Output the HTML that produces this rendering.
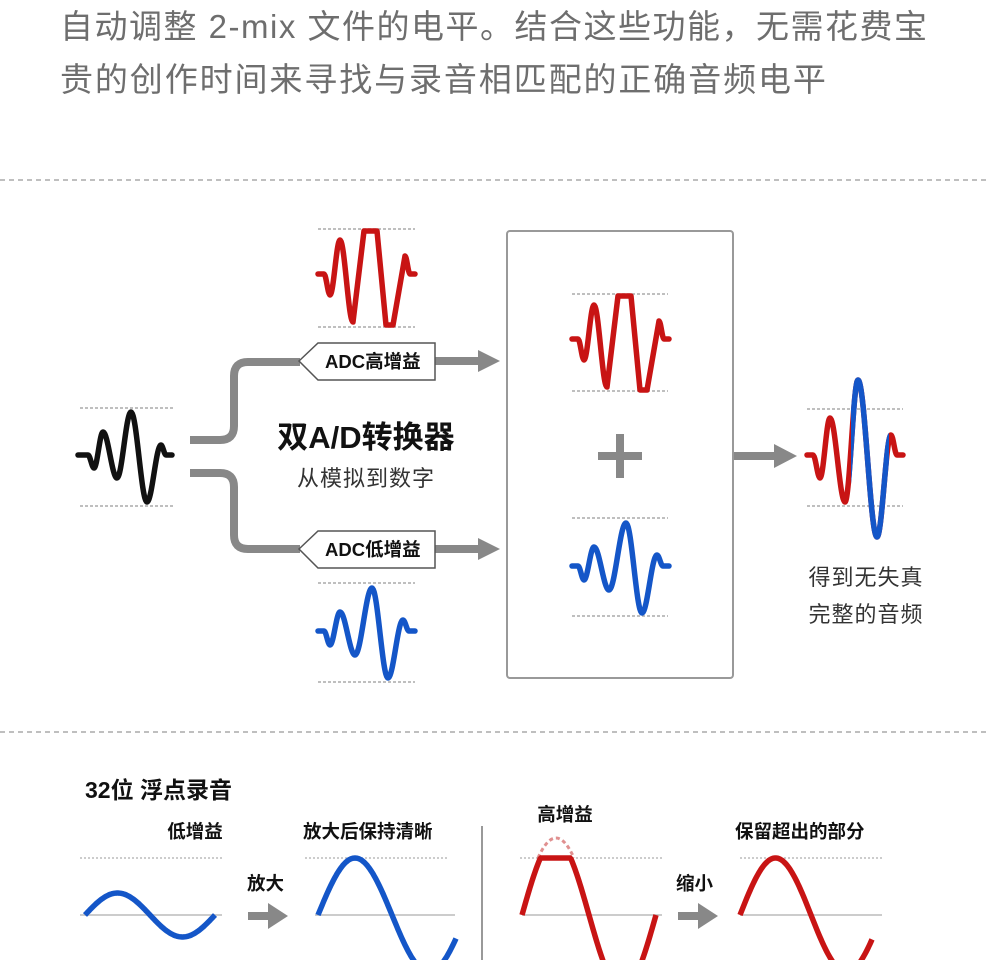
<!DOCTYPE html>
<html><head><meta charset="utf-8">
<style>
html,body{margin:0;padding:0;background:#fff;width:990px;height:960px;overflow:hidden}
.t{position:absolute;left:60px;font-family:"Liberation Sans","Noto Sans CJK SC",sans-serif;font-size:33px;letter-spacing:1.5px;color:#6e6e6e;white-space:nowrap;line-height:1}
svg{position:absolute;left:0;top:0}
svg text{font-family:"Liberation Sans","Noto Sans CJK SC",sans-serif}
</style></head><body>
<div class="t" style="top:10px">自动调整 2-mix 文件的电平。结合这些功能，无需花费宝</div>
<div class="t" style="top:63px;letter-spacing:1.9px">贵的创作时间来寻找与录音相匹配的正确音频电平</div>
<svg width="990" height="960" viewBox="0 0 990 960">
<defs><clipPath id="cb"><rect x="851" y="300" width="38" height="300"/></clipPath></defs>
<g stroke="#999" stroke-width="1.3" stroke-dasharray="5 4">
<line x1="0" y1="180" x2="990" y2="180"/><line x1="0" y1="732" x2="990" y2="732"/>
</g>
<g stroke="#aaa" stroke-width="1.5" stroke-dasharray="3 2">
<line x1="80" y1="408" x2="175" y2="408"/><line x1="80" y1="506" x2="175" y2="506"/>
<line x1="318" y1="229" x2="415" y2="229"/><line x1="318" y1="327" x2="415" y2="327"/>
<line x1="318" y1="583" x2="415" y2="583"/><line x1="318" y1="682" x2="415" y2="682"/>
<line x1="572" y1="294" x2="668" y2="294"/><line x1="572" y1="391" x2="668" y2="391"/>
<line x1="572" y1="518" x2="668" y2="518"/><line x1="572" y1="616" x2="668" y2="616"/>
<line x1="807" y1="409" x2="903" y2="409"/><line x1="807" y1="506" x2="903" y2="506"/>
</g>
<g fill="none" stroke="#888" stroke-width="8">
<path d="M190 440 H220 Q234 440 234 426 V376 Q234 362 248 362 H300"/>
<path d="M190 473 H220 Q234 473 234 487 V535 Q234 549 248 549 H300"/>
<line x1="435" y1="361" x2="480" y2="361"/><line x1="435" y1="549" x2="480" y2="549"/>
<line x1="733" y1="456" x2="776" y2="456"/>
<line x1="598" y1="456" x2="642" y2="456"/><line x1="620" y1="434" x2="620" y2="478"/>
</g>
<g fill="#888">
<polygon points="478,350 500,361 478,372"/><polygon points="478,538 500,549 478,560"/>
<polygon points="774,444 797,456 774,468"/>
</g>
<rect x="507" y="231" width="226" height="447" rx="3" fill="none" stroke="#999" stroke-width="2"/>
<g fill="#fff" stroke="#555" stroke-width="1.5">
<polygon points="299,361 318,343 435,343 435,380 318,380"/>
<polygon points="299,549 318,531 435,531 435,568 318,568"/>
</g>
<g font-weight="bold" font-size="18.5" fill="#111">
<text x="325" y="368">ADC高增益</text>
<text x="325" y="556">ADC低增益</text>
</g>
<text x="366" y="448" text-anchor="middle" font-size="31" font-weight="bold" fill="#111">双A/D转换器</text>
<text x="366" y="486" text-anchor="middle" font-size="22" letter-spacing="1" fill="#333">从模拟到数字</text>
<text x="866" y="585" text-anchor="middle" font-size="22" letter-spacing="1" fill="#333">得到无失真</text>
<text x="866" y="622" text-anchor="middle" font-size="22" letter-spacing="1" fill="#333">完整的音频</text>
<g id="waves" fill="none" stroke-width="5.5" stroke-linecap="round" stroke-linejoin="round"></g>
<text x="85" y="798" font-size="23" font-weight="bold" fill="#111">32位 浮点录音</text>
<g font-size="18.5" font-weight="bold" fill="#111">
<text x="195" y="838" text-anchor="middle">低增益</text>
<text x="303" y="838">放大后保持清晰</text>
<text x="565" y="821" text-anchor="middle">高增益</text>
<text x="735" y="838">保留超出的部分</text>
<text x="247" y="890">放大</text>
<text x="676" y="890">缩小</text>
</g>
<line x1="482" y1="826" x2="482" y2="960" stroke="#999" stroke-width="2"/>
<g stroke="#bbb" stroke-width="1.5" stroke-dasharray="2 2">
<line x1="80" y1="858" x2="222" y2="858"/><line x1="305" y1="858" x2="447" y2="858"/>
<line x1="520" y1="858" x2="662" y2="858"/><line x1="740" y1="858" x2="882" y2="858"/>
</g>
<g stroke="#ccc" stroke-width="2">
<line x1="80" y1="915" x2="222" y2="915"/><line x1="315" y1="915" x2="455" y2="915"/>
<line x1="522" y1="915" x2="662" y2="915"/><line x1="740" y1="915" x2="882" y2="915"/>
</g>
<g fill="#888"><rect x="248" y="912" width="22" height="8"/><polygon points="268,903 288,916 268,929"/>
<rect x="678" y="912" width="22" height="8"/><polygon points="698,903 718,916 698,929"/></g>
<path d="M538 858 Q556 818 574 858" fill="none" stroke="#e09090" stroke-width="3" stroke-dasharray="4 3"/>
<g id="sines" fill="none" stroke-width="5.5"></g>
</svg>
<script>
function wave(p){var d="M"+p[0][0]+" "+p[0][1];for(var i=1;i<p.length;i++){var a=p[i-1],b=p[i];if(a[1]==b[1]||a[2]||b[2]){d+=" L"+b[0]+" "+b[1];}else{var dx=b[0]-a[0];d+=" C"+(a[0]+0.36*dx)+" "+a[1]+" "+(b[0]-0.36*dx)+" "+b[1]+" "+b[0]+" "+b[1];}}return d;}
function sh(p,dx,dy){return p.map(function(q){return [q[0]+dx,q[1]+dy,q[2]];});}
var blk=[[78,455],[88,455],[94,468],[103,432],[117,478],[131,412],[147,502],[161,445],[166,455],[172,455]];
var red=[[318,274],[324,274],[330,295],[340,240],[353,322],[364,231,1],[377,231,1],[386,325,1],[393,325,1],[405,256],[410,274],[415,274]];
var blu=[[318,631],[324,631],[330,645],[340,612],[355,655],[372,588],[388,678],[403,620],[409,631],[415,631]];
var out=[[807,455],[813,455],[820,478],[830,418],[845,502],[858,380],[877,537],[891,435],[897,455],[903,455]];
var g=document.getElementById("waves"),h="";
h+='<path d="'+wave(blk)+'" stroke="#111"/>';
h+='<path d="'+wave(red)+'" stroke="#c81414"/>';
h+='<path d="'+wave(sh(red,254,65))+'" stroke="#c81414"/>';
h+='<path d="'+wave(blu)+'" stroke="#1456c8"/>';
h+='<path d="'+wave(sh(blu,254,-65))+'" stroke="#1456c8"/>';
h+='<path d="'+wave(out)+'" stroke="#c81414"/>';
h+='<path d="'+wave(out)+'" stroke="#1456c8" clip-path="url(#cb)" stroke-linecap="butt"/>';
g.innerHTML=h;
function sine(x0,y0,P,A,x1,clip){var s="";for(var x=x0;x<=x1;x+=1){var y=y0-A*Math.sin((x-x0)/P*2*Math.PI);if(clip!==undefined&&y<clip)y=clip;s+=(s?" L":"M")+x+" "+y.toFixed(1);}return s;}
var sg=document.getElementById("sines"),s="";
s+='<path d="'+sine(85,915,130,22,215)+'" stroke="#1456c8"/>';
s+='<path d="'+sine(318,915,148,57,456)+'" stroke="#1456c8"/>';
s+='<path d="'+sine(522,915,134,75,656,858)+'" stroke="#c81414"/>';
s+='<path d="'+sine(740,915,142,57,872)+'" stroke="#c81414"/>';
sg.innerHTML=s;
</script>
</body></html>
